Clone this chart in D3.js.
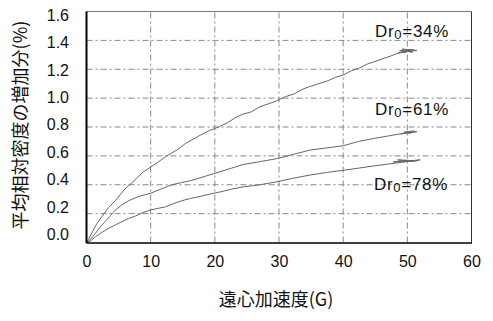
<!DOCTYPE html>
<html>
<head>
<meta charset="utf-8">
<script src="https://cdn.jsdelivr.net/npm/d3@7"></script>
<style>
  html, body { margin: 0; padding: 0; background: #fff; }
  svg { display: block; font-family: "Liberation Sans", Arial, sans-serif; }
</style>
</head>
<body>
<svg id="chart" width="493" height="321"></svg>
<script>
// Increase of mean relative density vs. centrifugal acceleration, three initial densities
const xTicks = [0, 10, 20, 30, 40, 50, 60];
const yTicks = [0, 0.2, 0.4, 0.6, 0.8, 1.0, 1.2, 1.4, 1.6];

const seriesNames = ["34", "61", "78"];

// [G, increase %] ; each run ends with a cluster of readings held near 50 G
const dr34 = [
  [0,0],[0.4,0.03],[1,0.08],[1.6,0.13],[2.4,0.18],[3.4,0.24],[4.5,0.29],[5.4,0.34],
  [6.2,0.38],[7.1,0.415],[7.9,0.45],[8.9,0.49],[9.9,0.52],[11.1,0.555],[12.3,0.594],
  [13.3,0.62],[14.4,0.65],[15.4,0.685],[16.4,0.71],[17.8,0.745],[19.2,0.776],[20.6,0.80],
  [22,0.83],[23.2,0.865],[24.4,0.89],[25.7,0.905],[27,0.94],[28.3,0.96],[29.6,0.98],
  [31,1.01],[32.4,1.03],[33.6,1.06],[34.8,1.08],[36.2,1.10],[37.6,1.12],[38.8,1.145],
  [40,1.16],[41.3,1.19],[42.6,1.21],[43.7,1.235],[44.7,1.25],[46,1.27],[47.3,1.29],
  [48.5,1.31],[49.6,1.32],[51,1.335],[48.6,1.315],[51.5,1.33],[49.2,1.34],[50.8,1.318],
  [48.8,1.33],[50.5,1.335],[49.5,1.312]
];
const dr61 = [
  [0,0],[0.6,0.02],[1.4,0.064],[2.1,0.105],[2.9,0.144],[3.7,0.185],[4.5,0.225],[5.5,0.26],
  [6.6,0.29],[8.2,0.32],[9.9,0.34],[11.6,0.37],[13.3,0.40],[14.8,0.415],[16.4,0.43],
  [18.6,0.46],[20.8,0.49],[22.6,0.515],[24.4,0.54],[27,0.56],[29.6,0.58],[32.2,0.61],
  [34.8,0.64],[37.4,0.655],[40,0.67],[42.4,0.70],[44.7,0.72],[47.3,0.74],[49.9,0.76],
  [51.5,0.768],[49,0.752],[51,0.772],[49.5,0.765],[50.5,0.755]
];
const dr78 = [
  [0,0],[0.6,0.01],[1.4,0.04],[2.4,0.07],[3.5,0.10],[4.5,0.122],[5.5,0.144],[6.5,0.165],
  [7.6,0.183],[8.7,0.205],[9.9,0.225],[11.1,0.236],[12.3,0.247],[13.6,0.27],[14.9,0.29],
  [16.2,0.305],[17.5,0.317],[19.2,0.335],[20.8,0.35],[22.6,0.37],[24.4,0.385],[27,0.40],
  [29.6,0.42],[32.2,0.445],[34.8,0.467],[37.4,0.485],[40,0.50],[42.4,0.515],[44.7,0.53],
  [47.3,0.545],[49.9,0.56],[52,0.572],[47.8,0.558],[51.5,0.566],[48.5,0.572],[51,0.562],[49.5,0.57]
];
const seriesData = [dr34, dr61, dr78];

const svg = d3.select("#chart");
svg.append("rect").attr("width", 493).attr("height", 321).attr("fill", "#fff");

const x = d3.scaleLinear().domain([0, 60]).range([86.5, 471.5]);
const y = d3.scaleLinear().domain([0, 1.6]).range([242.5, 11.5]);
// tick text sits on a slightly tighter ladder than the grid
const yLab = d3.scaleLinear().domain([0, 1.6]).range([234.5, 15]);

// grid
const grid = svg.append("g").attr("stroke", "#888").attr("stroke-width", 1)
  .attr("stroke-dasharray", "6,3,2,3").attr("fill", "none");
grid.selectAll(".gx").data(xTicks.filter(v => v > 0 && v < 60)).join("line")
  .attr("x1", d => x(d)).attr("x2", d => x(d)).attr("y1", y(0)).attr("y2", y(1.6));
grid.selectAll(".gy").data(yTicks.filter(v => v > 0 && v < 1.6)).join("line")
  .attr("x1", x(0)).attr("x2", x(60)).attr("y1", d => y(d)).attr("y2", d => y(d));

// frame
svg.append("line").attr("x1", x(0)).attr("x2", x(60)).attr("y1", y(1.6)).attr("y2", y(1.6))
  .attr("stroke", "#777").attr("stroke-width", 1);
svg.append("line").attr("x1", x(60)).attr("x2", x(60)).attr("y1", y(1.6)).attr("y2", y(0))
  .attr("stroke", "#333").attr("stroke-width", 1);

// curves
const line = d3.line().x(d => x(d[0])).y(d => y(d[1]));
svg.append("g").selectAll("path").data(seriesData).join("path")
  .attr("d", line).attr("fill", "none").attr("stroke", "#666")
  .attr("stroke-width", 1).attr("stroke-linejoin", "round");

// axes
const xAxis = svg.append("g").attr("transform", `translate(0,${y(0)})`)
  .call(d3.axisBottom(x).tickValues(xTicks).tickSize(0).tickPadding(13));
xAxis.select(".domain").attr("stroke", "#000").attr("stroke-width", 1.6);
xAxis.selectAll("text").attr("font-size", 16).attr("fill", "#111")
  .attr("font-family", "'Liberation Sans', Arial, sans-serif");

svg.append("line").attr("x1", x(0)).attr("x2", x(0)).attr("y1", y(0) + 0.8).attr("y2", y(1.6))
  .attr("stroke", "#000").attr("stroke-width", 2);
const yAxis = svg.append("g").attr("transform", `translate(69,0)`)
  .call(d3.axisLeft(yLab).tickValues(yTicks).tickFormat(d3.format(".1f")).tickSize(0).tickPadding(0));
yAxis.select(".domain").remove();
yAxis.selectAll("text").attr("font-size", 16).attr("fill", "#111")
  .attr("font-family", "'Liberation Sans', Arial, sans-serif");

// series labels
const labels = [
  { name: seriesNames[0], x: 375, y: 36.5 },
  { name: seriesNames[1], x: 375, y: 115 },
  { name: seriesNames[2], x: 374, y: 190 }
];
labels.forEach(l => {
  const t = svg.append("text").attr("x", l.x).attr("y", l.y)
    .attr("font-size", 17).attr("letter-spacing", 0.7).attr("fill", "#111");
  t.append("tspan").text("Dr");
  t.append("tspan").attr("font-size", 13).attr("dy", 2).text("0");
  t.append("tspan").attr("dy", -2).text("=" + l.name + "%");
});

// axis titles
svg.append("text").attr("x", 276).attr("y", 306).attr("text-anchor", "middle")
  .attr("font-size", 18).attr("fill", "#111")
  .attr("font-family", "'Noto Sans CJK JP', sans-serif")
  .text("遠心加速度(G)");
svg.append("text").attr("transform", "translate(27,125) rotate(-90)")
  .attr("text-anchor", "middle").attr("font-size", 18).attr("fill", "#111")
  .attr("font-family", "'Noto Sans CJK JP', sans-serif")
  .text("平均相対密度の増加分(%)");
</script>
</body>
</html>
